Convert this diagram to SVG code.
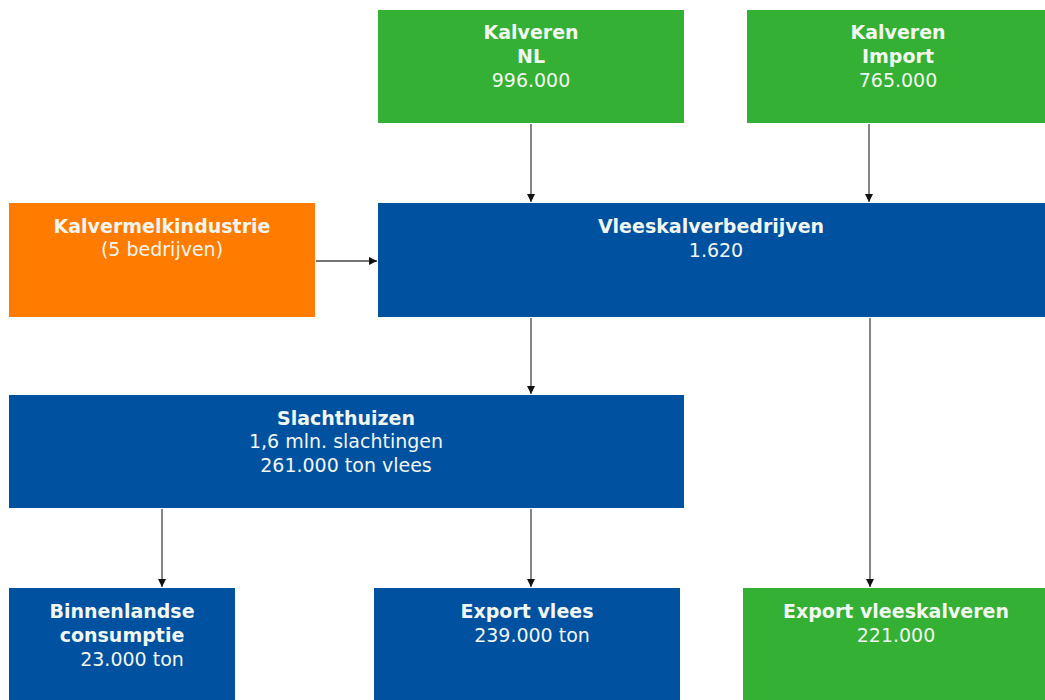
<svg xmlns="http://www.w3.org/2000/svg" width="1045" height="700" viewBox="0 0 1045 700">
<defs>
<style>
.g{fill:#34b034}.b{fill:#0051a0}.o{fill:#ff7c00}
text{font-family:"DejaVu Sans",Verdana,sans-serif;font-size:19px;fill:#f2f6f0;text-anchor:middle}
.t{font-weight:bold}
.c line{stroke:#444;stroke-width:1.3;marker-end:url(#ah)}
</style>
<marker id="ah" viewBox="0 0 10 10" refX="10" refY="5" markerWidth="8" markerHeight="8" markerUnits="userSpaceOnUse" orient="auto"><path d="M0,0 L10,5 L0,10 z" fill="#111"/></marker>
</defs>
<rect width="1045" height="700" fill="#fff"/>
<g id="kalveren-nl"><rect class="g" x="378" y="10" width="306" height="113"/><text class="t" x="531" y="39">Kalveren</text><text class="t" x="531" y="63">NL</text><text x="531" y="87">996.000</text></g>
<g id="kalveren-import"><rect class="g" x="747" y="10" width="298" height="113"/><text class="t" x="898" y="39">Kalveren</text><text class="t" x="898" y="63">Import</text><text x="898" y="87">765.000</text></g>
<g id="kalvermelkindustrie"><rect class="o" x="9" y="203" width="306" height="114"/><text class="t" x="162" y="233">Kalvermelkindustrie</text><text x="162" y="256">(5 bedrijven)</text></g>
<g id="vleeskalverbedrijven"><rect class="b" x="378" y="203" width="667" height="114"/><text class="t" x="711" y="233">Vleeskalverbedrijven</text><text x="716" y="257">1.620</text></g>
<g id="slachthuizen"><rect class="b" x="9" y="395" width="675" height="113"/><text class="t" x="346" y="425">Slachthuizen</text><text x="346" y="448">1,6 mln. slachtingen</text><text x="346" y="472">261.000 ton vlees</text></g>
<g id="binnenlandse-consumptie"><rect class="b" x="9" y="588" width="226" height="112"/><text class="t" x="122" y="618">Binnenlandse</text><text class="t" x="122" y="642">consumptie</text><text x="132" y="666">23.000 ton</text></g>
<g id="export-vlees"><rect class="b" x="374" y="588" width="306" height="112"/><text class="t" x="527" y="618">Export vlees</text><text x="532" y="642">239.000 ton</text></g>
<g id="export-vleeskalveren"><rect class="g" x="743" y="588" width="302" height="112"/><text class="t" x="896" y="618">Export vleeskalveren</text><text x="896" y="642">221.000</text></g>
<g class="c" id="connectors">
<line x1="531" y1="124" x2="531" y2="202"/>
<line x1="869" y1="124" x2="869" y2="202"/>
<line x1="316" y1="261" x2="377" y2="261"/>
<line x1="531" y1="318" x2="531" y2="394"/>
<line x1="870" y1="318" x2="870" y2="587"/>
<line x1="162" y1="509" x2="162" y2="587"/>
<line x1="531" y1="509" x2="531" y2="587"/>
</g>
</svg>
